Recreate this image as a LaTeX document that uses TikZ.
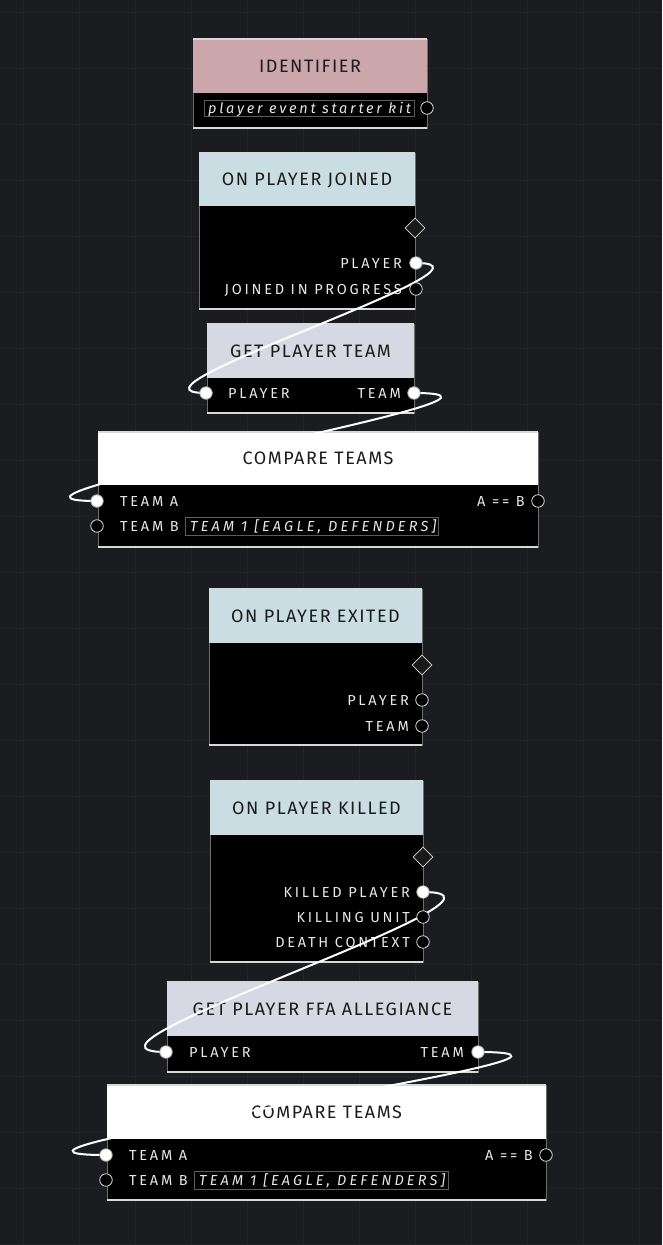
\documentclass[tikz,border=0pt]{standalone}
\usepackage{fontspec}
\setmainfont{Fira Sans}
\newfontfamily\hdfont[LetterSpace=8.5]{Fira Sans}
\newfontfamily\bdfont[LetterSpace=19]{Fira Sans}
\newfontfamily\fdfont[LetterSpace=19]{Fira Sans}
\newfontfamily\fcfont[LetterSpace=22]{Fira Sans}
\usetikzlibrary{shapes.geometric}
\definecolor{bg}{HTML}{1B1C1F}
\definecolor{gridc}{HTML}{232428}
\definecolor{hdpink}{HTML}{CBA6AB}
\definecolor{hdblue}{HTML}{C9DDE2}
\definecolor{hdgrey}{HTML}{D6D9E3}
\definecolor{hdtext}{HTML}{1C1C1C}
\definecolor{bdtext}{HTML}{E8E8E8}
\definecolor{sidec}{HTML}{6E6E6E}
\definecolor{edgec}{HTML}{D8D8D8}
\definecolor{fieldc}{HTML}{5C5C5C}
\pgfdeclarelayer{front}
\pgfsetlayers{main,front}
\tikzset{
  bodybox/.style={anchor=north west, fill=black, draw=sidec, line width=0.9pt, inner sep=0pt, outer sep=0pt},
  headbox/.style={anchor=north west, inner sep=0pt, outer sep=0pt, text=hdtext,
    font=\hdfont\fontsize{18}{18}\selectfont, text height=12.4pt, text depth=0pt},
  edgeline/.style={draw=edgec, line width=1.3pt},
  lbl/.style={inner sep=0pt, text=bdtext, font=\bdfont\fontsize{14.5}{14.5}\selectfont, text height=10pt, text depth=0pt},
  fieldbox/.style={anchor=west, draw=fieldc, line width=0.8pt, inner sep=0pt},
  fieldtxt/.style={anchor=west, inner sep=0pt, text=bdtext, font=\fdfont\itshape\fontsize{14.5}{14.5}\selectfont, text height=10pt, text depth=0pt},
  fieldcap/.style={fieldtxt, font=\fcfont\itshape\fontsize{14.5}{14.5}\selectfont},
  porthollow/.style={circle, minimum size=12.5pt, inner sep=0pt, fill=black, draw=edgec, line width=0.8pt},
  portfull/.style={circle, minimum size=12.5pt, inner sep=0pt, fill=white, draw=gray!70, line width=0.8pt},
  flowport/.style={diamond, minimum width=20pt, minimum height=20pt, inner sep=0pt, fill=black!90!white, draw=edgec, line width=0.8pt},
  wire/.style={draw=white, line width=2pt},
}
\newcommand\gnode[8]{%
  \pgfmathsetmacro\gw{#4-#2}\pgfmathsetmacro\gh{#5-#3}\pgfmathsetmacro\ghh{#6-#3}%
  \node[bodybox, minimum width=\gw pt, minimum height=\gh pt] (#1) at (#2,#3) {};
  \node[headbox, fill=#7, minimum width=\gw pt, minimum height=\ghh pt] (#1h) at (#2,#3) {#8};
  \draw[edgeline] (#1.north west) -- (#1.north east);
  \draw[edgeline] (#1.south west) -- (#1.south east);
}
\begin{document}
\begin{tikzpicture}[x=1pt,y=-1pt]
\useasboundingbox (0,0) rectangle (662,1245);
\fill[bg] (0,0) rectangle (662,1245);
\foreach \gx in {23,79,...,640} \draw[gridc, line width=1pt] (\gx,0) -- (\gx,1245);
\foreach \gy in {12,68,...,1245} \draw[gridc, line width=1pt] (0,\gy) -- (662,\gy);

% nodes
\gnode{idn}{193}{39}{427}{128}{93}{hdpink}{IDENTIFIER}
\gnode{opj}{199}{153}{415}{309}{206}{hdblue}{ON PLAYER JOINED}
\gnode{gpt}{207}{324}{414}{413}{378}{hdgrey}{GET PLAYER TEAM}
\gnode{cta}{98}{432}{538}{547}{485}{white}{COMPARE TEAMS}
\gnode{ope}{209}{589}{422}{745}{643}{hdblue}{ON PLAYER EXITED}
\gnode{opk}{210}{781}{423}{962}{835}{hdblue}{ON PLAYER KILLED}
\gnode{gfa}{167}{982}{478}{1072}{1036}{hdgrey}{GET PLAYER FFA ALLEGIANCE}
\gnode{ctb}{107}{1085}{546}{1200}{1139}{white}{COMPARE TEAMS}

% fields
\node[fieldbox, minimum width=210pt, minimum height=16pt] (idnf) at (204,108) {};
\node[fieldtxt] (idnft) at (208,108) {player event starter kit};
\node[fieldbox, minimum width=253pt, minimum height=18pt] (ctaf) at (185,526) {};
\node[fieldcap] (ctaft) at (190,526) {TEAM 1 [EAGLE, DEFENDERS]};
\node[fieldbox, minimum width=254pt, minimum height=18pt] (ctbf) at (194,1180) {};
\node[fieldcap] (ctbft) at (199,1180) {TEAM 1 [EAGLE, DEFENDERS]};

% labels
\node[lbl, anchor=east] (opjl1) at (402,263) {PLAYER};
\node[lbl, anchor=east] (opjl2) at (402,289) {JOINED IN PROGRESS};
\node[lbl, anchor=west] (gptl1) at (228,393) {PLAYER};
\node[lbl, anchor=east] (gptl2) at (401,393) {TEAM};
\node[lbl, anchor=west] (ctal1) at (120,501) {TEAM A};
\node[lbl, anchor=east] (ctal2) at (525,501) {A == B};
\node[lbl, anchor=west] (ctal3) at (120,526) {TEAM B};
\node[lbl, anchor=east] (opel1) at (409,700) {PLAYER};
\node[lbl, anchor=east] (opel2) at (409,726) {TEAM};
\node[lbl, anchor=east] (opkl1) at (410,892) {KILLED PLAYER};
\node[lbl, anchor=east] (opkl2) at (410,917) {KILLING UNIT};
\node[lbl, anchor=east] (opkl3) at (410,942) {DEATH CONTEXT};
\node[lbl, anchor=west] (gfal1) at (189,1052) {PLAYER};
\node[lbl, anchor=east] (gfal2) at (464,1052) {TEAM};
\node[lbl, anchor=west] (ctbl1) at (129,1155) {TEAM A};
\node[lbl, anchor=east] (ctbl2) at (533,1155) {A == B};
\node[lbl, anchor=west] (ctbl3) at (129,1180) {TEAM B};

% ports
\begin{pgfonlayer}{front}
\node[porthollow] (idnp) at (427,108) {};
\node[flowport] (opjd) at (415,228) {};
\node[portfull] (opjp1) at (416,263) {};
\node[porthollow] (opjp2) at (416,289) {};
\node[portfull] (gptpi) at (206,393) {};
\node[portfull] (gptpo) at (414,393) {};
\node[portfull] (ctapa) at (97,501) {};
\node[porthollow] (ctapo) at (538,501) {};
\node[porthollow] (ctapb) at (97,526) {};
\node[flowport] (oped) at (422,665) {};
\node[porthollow] (opep1) at (422,700) {};
\node[porthollow] (opep2) at (422,726) {};
\node[flowport] (opkd) at (423,857) {};
\node[portfull] (opkp1) at (423,892) {};
\node[porthollow] (opkp2) at (423,917) {};
\node[porthollow] (opkp3) at (423,942) {};
\node[portfull] (gfapi) at (166,1052) {};
\node[portfull] (gfapo) at (478,1052) {};
\node[portfull] (ctbpa) at (106,1155) {};
\node[porthollow] (ctbpo) at (546,1155) {};
\node[porthollow] (ctbpb) at (106,1180) {};
\end{pgfonlayer}

% wires
\draw[wire] (opjp1.center) .. controls +(105,0) and +(-105,0) .. (gptpi.center);
\draw[wire] (gptpo.center) .. controls +(165,0) and +(-165,0) .. (ctapa.center);
\draw[wire] (opkp1.center) .. controls +(130,0) and +(-130,0) .. (gfapi.center);
\draw[wire] (gfapo.center) .. controls +(200,0) and +(-200,0) .. (ctbpa.center);
\end{tikzpicture}
\end{document}
